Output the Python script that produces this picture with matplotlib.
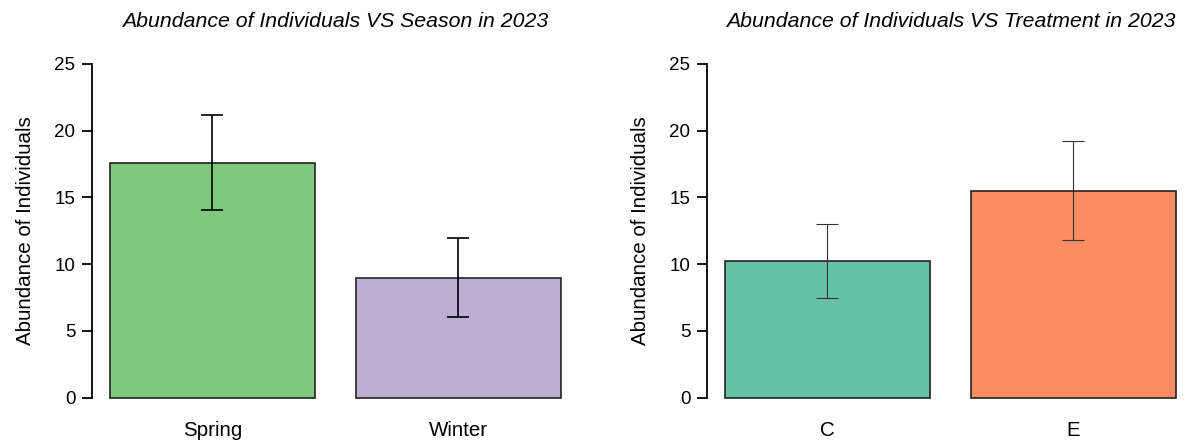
import matplotlib
matplotlib.use("Agg")
import matplotlib.pyplot as plt
import numpy as np

plt.rcParams['font.family'] = ['Liberation Sans', 'DejaVu Sans']

# season panel
seasons = ["Spring", "Winter"]
season_means = [17.6, 9.0]
season_se = [3.55, 2.95]
season_colors = ["#7FC97F", "#BEAED4"]

# treatment panel
treatments = ["C", "E"]
treatment_means = [10.25, 15.5]
treatment_se = [2.75, 3.72]
treatment_colors = ["#66C2A5", "#FC8D62"]

yticks = [0, 5, 10, 15, 20, 25]


def r_barplot(ax, labels, means, errs, colors, title, err_color, err_lw):
    # R-style positions: width 1, space 0.2
    x = np.arange(len(means)) * 1.2 + 0.7
    ax.bar(x, means, width=1.0, color=colors, edgecolor="#222222", linewidth=1.2)
    ax.errorbar(x, means, yerr=errs, fmt="none", ecolor=err_color,
                elinewidth=err_lw, capsize=8, capthick=err_lw)
    left, right = 0.2, x[-1] + 0.5
    pad = (right - left) * 0.04
    ax.set_xlim(left - pad, right + pad)
    ax.set_ylim(-1, 26)
    for s in ["top", "right", "bottom"]:
        ax.spines[s].set_visible(False)
    ax.spines["left"].set_bounds(0, 25)
    ax.spines["left"].set_linewidth(1.3)
    ax.set_yticks(yticks)
    ax.tick_params(axis="y", length=7, width=1.3, labelsize=13.5, pad=5, colors="black")
    ax.set_xticks(x)
    ax.set_xticklabels(labels, fontsize=14.8)
    ax.tick_params(axis="x", length=0, pad=7)
    ax.set_ylabel("Abundance of Individuals", fontsize=14.8, labelpad=14)
    ax.set_title(title, fontsize=15.3, style="italic", pad=17)


fig = plt.figure(figsize=(11.85, 4.42), dpi=100)
ax1 = fig.add_axes([0.0776, 0.0701, 0.411, 0.8154])
ax2 = fig.add_axes([0.5966, 0.0701, 0.411, 0.8154])

r_barplot(ax1, seasons, season_means, season_se, season_colors,
          "Abundance of Individuals VS Season in 2023", "black", 1.2)
r_barplot(ax2, treatments, treatment_means, treatment_se, treatment_colors,
          "Abundance of Individuals VS Treatment in 2023", "#333333", 0.8)

fig.savefig("out.png", dpi=100)
